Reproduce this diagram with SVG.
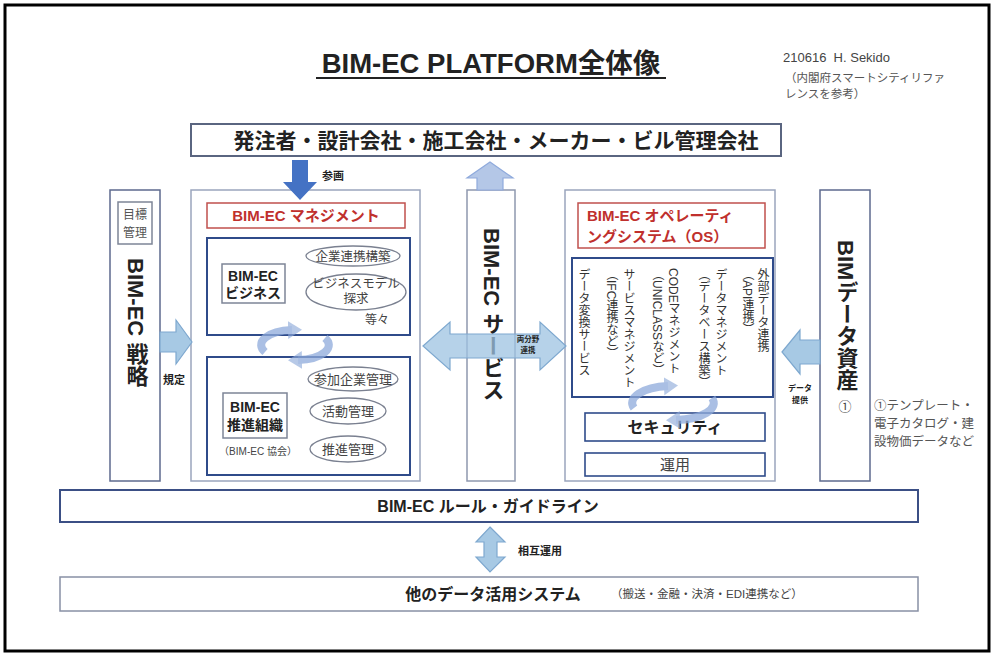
<svg xmlns="http://www.w3.org/2000/svg" width="996" height="659" viewBox="0 0 996 659">
<defs>
<style>
text{font-family:"Liberation Sans","Noto Sans CJK JP",sans-serif;fill:#222}
.b{font-weight:bold}
.vt{writing-mode:vertical-rl}
.panel{fill:#fff;stroke:#9aa5bd;stroke-width:1.5}
.inner{fill:#fff;stroke:#2f4b8a;stroke-width:2}
.gbox{fill:#fff;stroke:#7d8597;stroke-width:1.5}
.red{fill:#fff;stroke:#c0504d;stroke-width:1.5}
.redt{fill:#c0302d;font-weight:bold}
.ell{fill:#fff;stroke:#7a8090;stroke-width:1.3}
.et{font-size:12.5px;fill:#444;text-anchor:middle}
.lb{fill:#a7c9e4;stroke:#7ea8cf;stroke-width:1.2}
.cyc{fill:none;stroke:#8eaadb;stroke-width:8;opacity:0.75}
.ost{font-size:12px;fill:#333}
</style>
<marker id="ah" markerUnits="userSpaceOnUse" markerWidth="20" markerHeight="20" refX="4" refY="10" orient="auto">
<path d="M0,1 L14,10 L0,19 Z" fill="#8eaadb" opacity="0.85"/>
</marker>
</defs>
<rect x="0" y="0" width="996" height="659" fill="#fff"/>
<rect x="5" y="5" width="984" height="646" fill="none" stroke="#000" stroke-width="3"/>

<g id="title">
<text x="491" y="73" class="b" font-size="27.5" text-anchor="middle">BIM-EC PLATFORM全体像</text>
<line x1="316" y1="78" x2="666" y2="78" stroke="#222" stroke-width="2"/>
</g>
<g id="note">
<text x="783" y="62" font-size="13" style="fill:#444">210616&#160;&#160;H. Sekido</text>
<text x="785" y="82" font-size="11.5" style="fill:#555">（内閣府スマートシティリファ</text>
<text x="785" y="98" font-size="11.5" style="fill:#555">レンスを参考）</text>
</g>

<g id="stakeholders">
<rect x="191" y="124" width="590" height="32" fill="#fff" stroke="#5a6580" stroke-width="2"/>
<text x="496" y="148" class="b" font-size="21" text-anchor="middle">発注者・設計会社・施工会社・メーカー・ビル管理会社</text>
</g>

<g id="strategy">
<rect x="110" y="190" width="50" height="291" class="panel" style="stroke:#5d6a8e"/>
<rect x="118" y="202" width="34" height="42" class="gbox"/>
<text x="135" y="219" font-size="12" text-anchor="middle" style="fill:#555">目標</text>
<text x="135" y="237" font-size="12" text-anchor="middle" style="fill:#555">管理</text>
<text x="135" y="258" class="b vt" font-size="22">BIM-EC 戦略</text>
</g>

<g id="management">
<rect x="191" y="190" width="229" height="291" class="panel"/>
<rect x="207" y="203" width="198" height="25" class="red"/>
<text x="306" y="221" class="redt" font-size="15" text-anchor="middle">BIM-EC マネジメント</text>
</g>

<g id="business">
<rect x="207" y="238" width="203" height="97" class="inner"/>
<rect x="222" y="264" width="63" height="39" class="gbox"/>
<text x="253" y="281" class="b" font-size="14" text-anchor="middle">BIM-EC</text>
<text x="253" y="298" class="b" font-size="14" text-anchor="middle">ビジネス</text>
<ellipse cx="353" cy="256" rx="47" ry="10" class="ell"/>
<text x="353" y="261" class="et">企業連携構築</text>
<ellipse cx="356" cy="292" rx="50" ry="18" class="ell"/>
<text x="356" y="288" class="et">ビジネスモデル</text>
<text x="356" y="303" class="et">探求</text>
<text x="377" y="324" font-size="12" text-anchor="middle" style="fill:#444">等々</text>
</g>

<g id="organization">
<rect x="207" y="357" width="203" height="118" class="inner"/>
<rect x="223" y="393" width="64" height="45" class="gbox"/>
<text x="255" y="412" class="b" font-size="14" text-anchor="middle">BIM-EC</text>
<text x="255" y="430" class="b" font-size="14" text-anchor="middle">推進組織</text>
<text x="258" y="455" font-size="10" text-anchor="middle" style="fill:#444">（BIM-EC 協会）</text>
<ellipse cx="353" cy="379" rx="45" ry="12" class="ell"/>
<text x="353" y="384" class="et" style="font-size:13px">参加企業管理</text>
<ellipse cx="348" cy="411" rx="38" ry="13" class="ell"/>
<text x="348" y="416" class="et" style="font-size:13px">活動管理</text>
<ellipse cx="348" cy="449" rx="38" ry="13" class="ell"/>
<text x="348" y="454" class="et" style="font-size:13px">推進管理</text>
</g>

<g id="service">
<rect x="467" y="190" width="48" height="291" class="panel" style="stroke:#8e98ae"/>
<text x="491" y="228" class="b vt" font-size="22">BIM-EC サービス</text>
</g>

<g id="os">
<rect x="565" y="190" width="210" height="291" class="panel"/>
<rect x="578" y="203" width="187" height="45" class="red"/>
<text x="587" y="221" class="redt" font-size="15">BIM-EC オペレーティ</text>
<text x="587" y="242" class="redt" font-size="15">ングシステム（OS）</text>
<rect x="572" y="258" width="201" height="139" class="inner"/>
<text x="762" y="268" class="ost vt">外部データ連携</text>
<text x="747" y="268" class="ost vt">（API連携）</text>
<text x="720" y="268" class="ost vt">データマネジメント</text>
<text x="703" y="268" class="ost vt">（データベース構築）</text>
<text x="673" y="268" class="ost vt">CODEマネジメント</text>
<text x="657" y="268" class="ost vt">（UNICLASSなど）</text>
<text x="628" y="268" class="ost vt">サービスマネジメント</text>
<text x="611" y="268" class="ost vt">（IFC連携など）</text>
<text x="583" y="268" class="ost vt">データ変換サービス</text>
</g>

<g id="security">
<rect x="585" y="413" width="180" height="28" class="inner" style="stroke-width:1.6"/>
<text x="675" y="433" class="b" font-size="16" text-anchor="middle">セキュリティ</text>
</g>
<g id="operation">
<rect x="585" y="453" width="180" height="23" class="inner" style="stroke-width:1.6"/>
<text x="675" y="470" font-size="15" text-anchor="middle" style="fill:#444">運用</text>
</g>

<g id="bimdata">
<rect x="820" y="190" width="50" height="291" class="panel" style="stroke:#5d6a8e"/>
<text x="845" y="240" class="b vt" font-size="22">BIMデータ資産</text>
<text x="845" y="411" font-size="13" text-anchor="middle" style="fill:#444">①</text>
</g>
<g id="bimdata-note">
<text x="874" y="410" font-size="12.5" style="fill:#555">①テンプレート・</text>
<text x="874" y="428" font-size="12.5" style="fill:#555">電子カタログ・建</text>
<text x="874" y="446" font-size="12.5" style="fill:#555">設物価データなど</text>
</g>

<g id="rules">
<rect x="60" y="490" width="858" height="32" fill="#fff" stroke="#3b4f85" stroke-width="2"/>
<text x="488" y="512" class="b" font-size="16" text-anchor="middle">BIM-EC ルール・ガイドライン</text>
</g>

<g id="other-systems">
<rect x="60" y="577" width="858" height="34" fill="#fff" stroke="#8890a5" stroke-width="1.5"/>
<text x="493" y="600" class="b" font-size="16" text-anchor="middle">他のデータ活用システム</text>
<text x="611" y="598" font-size="11.5" style="fill:#444">（搬送・金融・決済・EDI連携など）</text>
</g>

<g id="connectors">
<polygon points="292,160 308,160 308,182 317,182 300,200 283,182 292,182" fill="#4472c4"/>
<text x="322" y="180" class="b" font-size="11">参画</text>
<polygon points="490,162 513,178 503,178 503,190 477,190 477,178 467,178" fill="#b4c7e7" stroke="#8faadc" stroke-width="1.2"/>
<polygon points="160,332 176,332 176,320 192,342 176,364 176,352 160,352" class="lb"/>
<text x="163" y="384" class="b" font-size="11">規定</text>
<polygon points="423,346 450,322 450,334 540,334 540,322 566,346 540,370 540,358 450,358 450,370" fill="#9ec3e2" fill-opacity="0.75" stroke="#7ea8cf" stroke-width="1.2"/>
<text x="528" y="342" class="b" font-size="7.5" text-anchor="middle">両分野</text>
<text x="528" y="353" class="b" font-size="7.5" text-anchor="middle">連携</text>
<polygon points="782,352 800,330 800,340 820,340 820,364 800,364 800,374" class="lb"/>
<text x="800" y="391" class="b" font-size="8" text-anchor="middle">データ</text>
<text x="800" y="403" class="b" font-size="8" text-anchor="middle">提供</text>
<polygon points="490,527 505,542 497,542 497,557 505,557 490,572 476,557 484,557 484,542 476,542" class="lb"/>
<text x="518" y="555" class="b" font-size="11">相互運用</text>
<path d="M265,352 A33,15 0 0 1 292,330" class="cyc" marker-end="url(#ah)"/>
<path d="M325,338 A33,15 0 0 1 298,360" class="cyc" marker-end="url(#ah)"/>
<path d="M634,408 A40,17 0 0 1 668,386" class="cyc" marker-end="url(#ah)"/>
<path d="M712,398 A40,17 0 0 1 676,420" class="cyc" marker-end="url(#ah)"/>
</g>
</svg>
